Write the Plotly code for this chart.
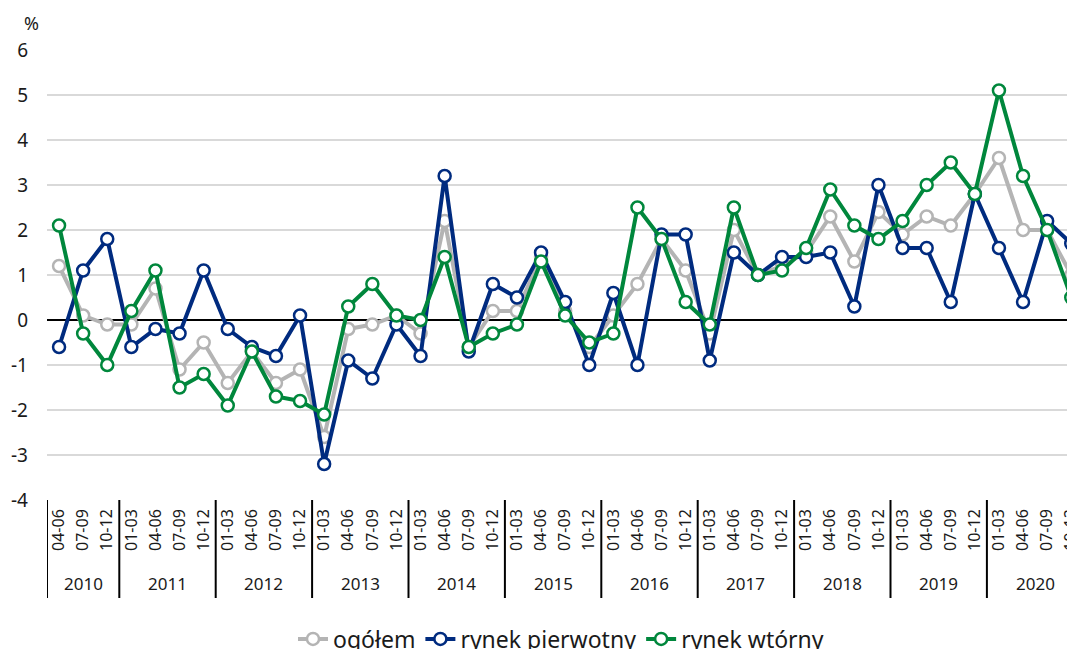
import plotly.graph_objects as go

years = ["2010"] * 3 + [str(y) for y in range(2011, 2021) for _ in range(4)]
quarters = ["04-06", "07-09", "10-12"] + ["01-03", "04-06", "07-09", "10-12"] * 10

ogolem = [1.2, 0.1, -0.1, -0.1, 0.7, -1.1, -0.5, -1.4, -0.7, -1.4, -1.1,
          -2.6, -0.2, -0.1, 0.1, -0.3, 2.2, -0.6, 0.2, 0.2, 1.4, 0.2, -0.6,
          0.1, 0.8, 1.8, 1.1, -0.3, 2.0, 1.0, 1.2, 1.5, 2.3, 1.3, 2.4, 1.9,
          2.3, 2.1, 2.8, 3.6, 2.0, 2.0, 1.0]
pierwotny = [-0.6, 1.1, 1.8, -0.6, -0.2, -0.3, 1.1, -0.2, -0.6, -0.8, 0.1,
             -3.2, -0.9, -1.3, -0.1, -0.8, 3.2, -0.7, 0.8, 0.5, 1.5, 0.4, -1.0,
             0.6, -1.0, 1.9, 1.9, -0.9, 1.5, 1.0, 1.4, 1.4, 1.5, 0.3, 3.0, 1.6,
             1.6, 0.4, 2.8, 1.6, 0.4, 2.2, 1.7]
wtorny = [2.1, -0.3, -1.0, 0.2, 1.1, -1.5, -1.2, -1.9, -0.7, -1.7, -1.8,
          -2.1, 0.3, 0.8, 0.1, 0.0, 1.4, -0.6, -0.3, -0.1, 1.3, 0.1, -0.5,
          -0.3, 2.5, 1.8, 0.4, -0.1, 2.5, 1.0, 1.1, 1.6, 2.9, 2.1, 1.8, 2.2,
          3.0, 3.5, 2.8, 5.1, 3.2, 2.0, 0.5]

y_ticks = [-4, -3, -2, -1, 0, 1, 2, 3, 4, 5, 6]
y_ticktext = [str(v) for v in y_ticks]

series = [
    ("ogółem", ogolem, "#b4b4b4"),
    ("rynek pierwotny", pierwotny, "#002b7f"),
    ("rynek wtórny", wtorny, "#00873c"),
]

FONT = "Noto Sans"
TXT = "#1a1a1a"
idx = list(range(len(quarters)))

fig = go.Figure()
for name, vals, col in series:
    fig.add_trace(go.Scatter(
        x=idx, y=vals, name=name, mode="lines+markers",
        line=dict(color=col, width=4),
        marker=dict(symbol="circle", size=12, color="white",
                    line=dict(color=col, width=2.5)),
    ))

# year groups: centres and boundaries derived from the category lists
groups = []
for i, y in enumerate(years):
    if not groups or groups[-1][0] != y:
        groups.append([y, i, i])
    else:
        groups[-1][2] = i

W, H = 1075, 649
OFF = 8  # page body margin: screen = figure + OFF
# target positions on screen
S_TOP, S_BOT, S_L, S_R = 50, 500, 47, 1075
PLOT_TOP, PLOT_BOT, PLOT_L, PLOT_R = S_TOP - OFF, S_BOT - OFF, S_L - OFF, S_R - OFF
PLOT_W = PLOT_R - PLOT_L
PH = PLOT_BOT - PLOT_TOP

def py(screen_y):
    return (S_BOT - screen_y) / PH

annotations = [dict(text="%", x=(31 - S_L) / PLOT_W, y=py(23), xref="paper", yref="paper",
                    showarrow=False, xanchor="center", yanchor="middle",
                    font=dict(size=18, family=FONT, color=TXT))]
shapes = []
for name, a, b in groups:
    annotations.append(dict(text=name, x=(a + b) / 2, y=py(583), xref="x", yref="paper",
                            showarrow=False, xanchor="center", yanchor="middle",
                            font=dict(size=17, family=FONT, color=TXT)))
    shapes.append(dict(type="line", xref="x", yref="paper", x0=a - 0.5, x1=a - 0.5,
                       y0=0, y1=py(598), line=dict(color="black", width=2)))

fig.update_layout(
    width=W, height=H,
    margin=dict(l=PLOT_L, r=W - PLOT_R, t=PLOT_TOP, b=H - PLOT_BOT, autoexpand=False),
    paper_bgcolor="white", plot_bgcolor="white",
    font=dict(family=FONT, color=TXT),
    showlegend=True,
    legend=dict(orientation="h", x=(561 - OFF) / W, xanchor="center",
                yref="container", y=(H - (639 - OFF)) / H, yanchor="middle",
                font=dict(size=23, family=FONT, color=TXT),
                tracegroupgap=0, bgcolor="rgba(0,0,0,0)", xref="container"),
    annotations=annotations,
    shapes=shapes,
)

fig.update_yaxes(range=[-4, 6], tickvals=y_ticks, ticktext=y_ticktext,
                 showgrid=True, gridcolor="#d9d9d9", gridwidth=2,
                 zeroline=True, zerolinecolor="black", zerolinewidth=2,
                 tickfont=dict(size=19, family=FONT, color=TXT), ticks="",
                 ticklabelstandoff=18, fixedrange=True, automargin=False)
# 24.1 px per quarter
fig.update_xaxes(range=[-0.5, -0.5 + PLOT_W / 24.1], tickvals=idx, ticktext=quarters,
                 tickangle=-90, tickfont=dict(size=16, family=FONT, color=TXT),
                 showgrid=False, showline=False, zeroline=False, ticks="",
                 ticklabelstandoff=5, automargin=False)

fig.write_html("out.html")
